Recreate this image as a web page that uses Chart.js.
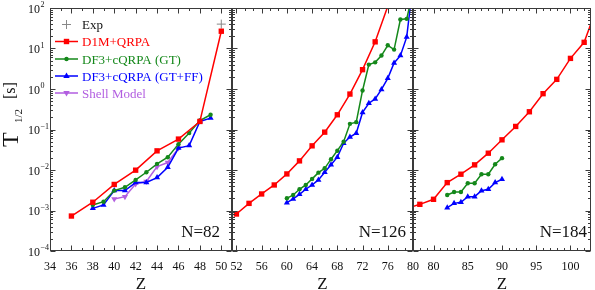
<!DOCTYPE html>
<html><head><meta charset="utf-8">
<script src="https://cdn.jsdelivr.net/npm/chart.js@4"></script>
<style>html,body{margin:0;padding:0;background:#fff;width:595px;height:290px;overflow:hidden}
canvas{position:absolute;left:0;top:0}</style></head>
<body>
<canvas id="c1" width="595" height="290"></canvas>
<canvas id="c2" width="595" height="290"></canvas>
<canvas id="c3" width="595" height="290"></canvas>
<script>
// ---------- DATA ----------
// N = 82
const expZ82 = [50];
const expT82 = [40];
const d1mZ82 = [36, 38, 40, 42, 44, 46, 48, 50];
const d1mT82 = [7.3e-4, 1.6e-3, 4.4e-3, 9.9e-3, 0.0297, 0.058, 0.158, 26.7];
const gtZ82 = [38, 39, 40, 41, 42, 43, 44, 45, 46, 47, 48, 49];
const gtT82 = [1.37e-3, 1.65e-3, 3.1e-3, 3.75e-3, 5.7e-3, 8.8e-3, 0.0142, 0.0207, 0.0435, 0.0815, 0.167, 0.231];
const ffZ82 = [38, 39, 40, 41, 42, 43, 44, 45, 46, 47, 48, 49];
const ffT82 = [1.13e-3, 1.37e-3, 3.1e-3, 3.1e-3, 4.88e-3, 4.9e-3, 6.5e-3, 0.0117, 0.0347, 0.040, 0.158, 0.191];
const smZ82 = [40, 41, 42, 43, 44, 45, 46];
const smT82 = [1.93e-3, 2.2e-3, 4.5e-3, 5.2e-3, 0.0121, 0.0153, 0.0347];
// N = 126
const d1mZ126 = [52, 54, 56, 58, 60, 62, 64, 66, 68, 70, 72, 74, 76];
const d1mT126 = [8.2e-4, 1.5e-3, 2.56e-3, 4.27e-3, 8.0e-3, 0.0168, 0.0395, 0.086, 0.231, 0.75, 3.0, 14.6, 110];
const gtZ126 = [60, 61, 62, 63, 64, 65, 66, 67, 68, 69, 70, 71, 72, 73, 74, 75, 76, 77, 78, 79, 80];
const gtT126 = [2.0e-3, 2.42e-3, 3.34e-3, 4.27e-3, 6.03e-3, 8.6e-3, 0.011, 0.0185, 0.030, 0.050, 0.138, 0.152, 0.92, 4.0, 4.55, 6.7, 12.0, 9.4, 51.9, 54, 250];
const ffZ126 = [60, 61, 62, 63, 64, 65, 66, 67, 68, 69, 70, 71, 72, 73, 74, 75, 76, 77, 78, 79, 80];
const ffT126 = [1.56e-3, 1.93e-3, 2.51e-3, 3.35e-3, 4.27e-3, 5.7e-3, 8.8e-3, 0.0134, 0.0207, 0.046, 0.065, 0.081, 0.264, 0.446, 0.569, 0.977, 1.83, 4.4, 6.67, 19.1, 400];
// N = 184
const d1mZ184 = [76, 78, 80, 82, 84, 86, 88, 90, 92, 94, 96, 98, 100, 102, 104];
const d1mT184 = [1.1e-3, 1.42e-3, 1.89e-3, 4.88e-3, 7.87e-3, 0.0134, 0.026, 0.0556, 0.119, 0.274, 0.766, 1.73, 5.7, 14.2, 120];
const gtZ184 = [82, 83, 84, 85, 86, 87, 88, 89, 90];
const gtT184 = [2.42e-3, 2.87e-3, 2.87e-3, 4.71e-3, 4.71e-3, 7.87e-3, 7.87e-3, 0.0139, 0.0196];
const ffZ184 = [82, 83, 84, 85, 86, 87, 88, 89, 90];
const ffT184 = [1.17e-3, 1.5e-3, 1.6e-3, 2.2e-3, 2.2e-3, 3.09e-3, 3.35e-3, 4.88e-3, 5.9e-3];

// tick labels
const xTicks82 = [34, 36, 38, 40, 42, 44, 46, 48, 50];
const xTicks126 = [52, 56, 60, 64, 68, 72, 76, 80];
const xTicks184 = [80, 85, 90, 95, 100];
const yTickExp = ['2', '1', '0', '−1', '−2', '−3', '−4'];
const seriesNames = ['Exp', 'D1M+QRPA', 'DF3+cQRPA (GT)', 'DF3+cQRPA (GT+FF)', 'Shell Model'];
const panelLabels = ['N=82', 'N=126', 'N=184'];
const xTitle = 'Z';

// ---------- STYLE ----------
const FONT = "'Liberation Serif','Times New Roman',serif";
const C = {exp: '#888888', d1m: '#ff0000', gt: '#14881a', ff: '#0000ff', sm: '#b25ee0'};

function pts(zs, ts) { return zs.map((z, i) => ({x: z, y: ts[i]})); }

function ds(kind, zs, ts) {
  const base = {data: pts(zs, ts), showLine: true, borderWidth: 1.5, pointBorderWidth: 0};
  if (kind === 'd1m') return Object.assign(base, {borderColor: C.d1m, backgroundColor: C.d1m, pointStyle: 'rect', pointRadius: 3.8});
  if (kind === 'gt') return Object.assign(base, {borderColor: C.gt, backgroundColor: C.gt, pointStyle: 'circle', pointRadius: 2.2});
  if (kind === 'ff') return Object.assign(base, {borderColor: C.ff, backgroundColor: C.ff, pointStyle: 'triangle', pointRadius: 3.5});
  if (kind === 'sm') return Object.assign(base, {borderColor: C.sm, backgroundColor: C.sm, pointStyle: 'triangle', rotation: 180, pointRadius: 3.5});
  if (kind === 'exp') return {data: pts(zs, ts), showLine: false, borderColor: C.exp, backgroundColor: C.exp, pointStyle: 'cross', pointRadius: 4.5, borderWidth: 1, pointBorderWidth: 1};
}

function line(ctx, x1, y1, x2, y2) { ctx.beginPath(); ctx.moveTo(x1, y1); ctx.lineTo(x2, y2); ctx.stroke(); }

function drawMarker(ctx, kind, x, y) {
  ctx.save();
  ctx.fillStyle = C[kind]; ctx.strokeStyle = C[kind];
  if (kind === 'd1m') { ctx.fillRect(x - 2.7, y - 2.7, 5.4, 5.4); }
  else if (kind === 'gt') { ctx.beginPath(); ctx.arc(x, y, 2.2, 0, Math.PI * 2); ctx.fill(); }
  else if (kind === 'ff') { ctx.beginPath(); ctx.moveTo(x, y - 3.5); ctx.lineTo(x + 3.2, y + 2); ctx.lineTo(x - 3.2, y + 2); ctx.closePath(); ctx.fill(); }
  else if (kind === 'sm') { ctx.beginPath(); ctx.moveTo(x, y + 3.5); ctx.lineTo(x + 3.2, y - 2); ctx.lineTo(x - 3.2, y - 2); ctx.closePath(); ctx.fill(); }
  else if (kind === 'exp') { ctx.lineWidth = 1; line(ctx, x - 4.5, y, x + 4.5, y); line(ctx, x, y - 4.5, x, y + 4.5); }
  ctx.restore();
}

function makePlugin(p) {
  return {
    id: 'deco' + p.idx,
    afterDraw(chart) {
      const ctx = chart.ctx, a = chart.chartArea, xs = chart.scales.x, ys = chart.scales.y;
      ctx.save();
      ctx.strokeStyle = '#3a3a3a'; ctx.lineWidth = 1;
      const L = Math.round(a.left) + 0.5, R = Math.round(a.right) - 0.5;
      const T = Math.round(a.top) + 0.5, B = Math.round(a.bottom) - 0.5;
      // y ticks (log)
      for (let e = -4; e <= 2; e++) {
        for (let k = 1; k <= 9; k++) {
          if (e === 2 && k > 1) break;
          const y = Math.round(ys.getPixelForValue(k * Math.pow(10, e))) + 0.5;
          const len = k === 1 ? 5 : 2.5;
          line(ctx, L, y, L + len, y); line(ctx, R, y, R - len, y);
        }
      }
      // x ticks
      p.major.forEach(v => { const x = Math.round(xs.getPixelForValue(v)) + 0.5; line(ctx, x, B, x, B - 5); line(ctx, x, T, x, T + 5); });
      p.minor.forEach(v => { if (v <= xs.min || v >= xs.max) return; const x = Math.round(xs.getPixelForValue(v)) + 0.5; line(ctx, x, B, x, B - 2.5); line(ctx, x, T, x, T + 2.5); });
      ctx.strokeRect(L, T, R - L, B - T);
      // x labels
      ctx.fillStyle = '#111'; ctx.font = '12px ' + FONT; ctx.textAlign = 'center'; ctx.textBaseline = 'alphabetic';
      p.major.forEach(v => { ctx.fillText(String(v), xs.getPixelForValue(v), 270); });
      ctx.font = '17px ' + FONT;
      ctx.fillText(xTitle, (a.left + a.right) / 2, 289);
      // panel label
      ctx.textAlign = 'right'; ctx.font = '17px ' + FONT;
      ctx.fillText(p.label, a.right - p.labelOff, 237);
      if (p.idx === 1) {
        // y labels
        for (let i = 0; i < yTickExp.length; i++) {
          const v = Math.pow(10, 2 - i);
          const y = ys.getPixelForValue(v);
          ctx.textAlign = 'right'; ctx.font = '12px ' + FONT;
          ctx.fillText('10', 40, y + 4.5);
          ctx.textAlign = 'left'; ctx.font = '8px ' + FONT;
          ctx.fillText(yTickExp[i], 40.5, y - 1);
        }
        // y title
        ctx.save();
        ctx.translate(0, 0);
        ctx.rotate(-Math.PI / 2);
        ctx.textAlign = 'left';
        ctx.font = '24px ' + FONT;
        ctx.fillText('T', -147, 18);
        ctx.font = '11px ' + FONT;
        ctx.fillText('1/2', -123, 22);
        ctx.font = '16px ' + FONT;
        ctx.fillText('[s]', -99, 15);
        ctx.restore();
        // legend
        const kinds = ['exp', 'd1m', 'gt', 'ff', 'sm'];
        const rows = [24.5, 41.5, 59, 76, 93];
        ctx.textAlign = 'left'; ctx.font = '13px ' + FONT;
        kinds.forEach((k, i) => {
          const y = rows[i];
          if (k !== 'exp') { ctx.strokeStyle = C[k]; ctx.lineWidth = 1.5; line(ctx, 55, y, 78, y); }
          drawMarker(ctx, k, 66.5, y);
          ctx.fillStyle = k === 'exp' ? '#111' : C[k];
          ctx.fillText(seriesNames[i], 82, y + 4.5);
        });
      }
      ctx.restore();
    }
  };
}

function makeChart(id, p, datasets) {
  return new Chart(document.getElementById(id), {
    type: 'scatter',
    data: {datasets},
    options: {
      animation: false, responsive: false, devicePixelRatio: 1,
      layout: {padding: {left: p.left, right: 595 - p.right, top: 8, bottom: 290 - 251}},
      scales: {
        x: {type: 'linear', min: p.min, max: p.max, display: false},
        y: {type: 'logarithmic', min: 1e-4, max: 100, display: false}
      },
      plugins: {legend: {display: false}, tooltip: {enabled: false}}
    },
    plugins: [makePlugin(p)]
  });
}

const minor82 = []; for (let z = 35; z <= 51; z += 2) minor82.push(z);
const minor126 = []; for (let z = 52; z < 80; z += 4) { minor126.push(z + 4 / 3, z + 8 / 3); }
const minor184 = []; for (let z = 77; z <= 103; z++) if (z % 5) minor184.push(z);

makeChart('c1', {idx: 1, left: 50, right: 232, min: 34, max: 51, major: xTicks82, minor: minor82, label: panelLabels[0], labelOff: 12},
  [ds('d1m', d1mZ82, d1mT82), ds('gt', gtZ82, gtT82), ds('ff', ffZ82, ffT82), ds('sm', smZ82, smT82), ds('exp', expZ82, expT82)]);
makeChart('c2', {idx: 2, left: 232, right: 413, min: 51.3, max: 80, major: xTicks126, minor: minor126, label: panelLabels[1], labelOff: 7},
  [ds('d1m', d1mZ126, d1mT126), ds('gt', gtZ126, gtT126), ds('ff', ffZ126, ffT126)]);
makeChart('c3', {idx: 3, left: 413, right: 595, min: 77, max: 103, major: xTicks184, minor: minor184, label: panelLabels[2], labelOff: 4},
  [ds('d1m', d1mZ184, d1mT184), ds('gt', gtZ184, gtT184), ds('ff', ffZ184, ffT184)]);
</script>
</body></html>
